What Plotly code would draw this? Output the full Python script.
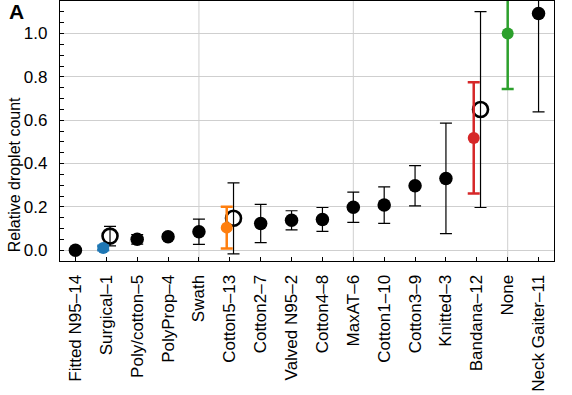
import plotly.graph_objects as go

categories = ["Fitted N95–14", "Surgical–1", "Poly/cotton–5", "PolyProp–4", "Swath",
              "Cotton5–13", "Cotton2–7", "Valved N95–2", "Cotton4–8", "MaxAT–6",
              "Cotton1–10", "Cotton3–9", "Knitted–3", "Bandana–12", "None", "Neck Gaiter–11"]

black_labels = ["Fitted N95–14", "Poly/cotton–5", "PolyProp–4", "Swath", "Cotton2–7",
                "Valved N95–2", "Cotton4–8", "MaxAT–6", "Cotton1–10", "Cotton3–9",
                "Knitted–3", "Neck Gaiter–11"]
black_values = [0.0, 0.05, 0.062, 0.085, 0.123, 0.138, 0.142, 0.198, 0.208, 0.297, 0.331, 1.092]
black_errors = [0.0, 0.022, 0.012, 0.058, 0.088, 0.044, 0.055, 0.07, 0.084, 0.093, 0.255, 0.454]

open_labels = ["Surgical–1", "Cotton5–13", "Bandana–12"]
open_values = [0.065, 0.147, 0.649]
open_errors = [0.045, 0.164, 0.452]

color_labels = ["Surgical–1", "Cotton5–13", "Bandana–12", "None"]
color_values = [0.01, 0.104, 0.518, 1.0]
color_errors = [0.01, 0.096, 0.257, 0.256]
color_colors = ["#1f77b4", "#ff7f0e", "#d62728", "#2ca02c"]
color_offsets = [-0.1, -0.1, -0.1, 0.0]

y_ticks = [0.0, 0.2, 0.4, 0.6, 0.8, 1.0]
grid_x_labels = ["Swath", "MaxAT–6", "None"]

FONT = "Liberation Sans, Arial, sans-serif"

def pos(label, off=0.0):
    return categories.index(label) + off

fig = go.Figure()

# vertical grid lines
for g in grid_x_labels:
    fig.add_shape(type="line", xref="x", yref="paper", x0=pos(g), x1=pos(g), y0=0, y1=1,
                  line=dict(color="#cfcfcf", width=1), layer="below")

fig.add_trace(go.Scatter(
    x=[pos(l) for l in black_labels], y=black_values, mode="markers",
    marker=dict(color="black", size=13.5),
    error_y=dict(type="data", array=black_errors, color="black", thickness=1.2, width=6),
    showlegend=False))

fig.add_trace(go.Scatter(
    x=[pos(l, 0.12) for l in open_labels], y=open_values, mode="markers",
    marker=dict(symbol="circle-open", color="black", size=15, line=dict(width=2.6)),
    error_y=dict(type="data", array=open_errors, color="black", thickness=1.2, width=6),
    showlegend=False))

for l, v, e, c, o in zip(color_labels, color_values, color_errors, color_colors, color_offsets):
    fig.add_trace(go.Scatter(
        x=[pos(l, o)], y=[v], mode="markers",
        marker=dict(color=c, size=12),
        error_y=dict(type="data", array=[e], color=c, thickness=2.5, width=6),
        showlegend=False))

fig.add_annotation(text="<b>A</b>", xref="paper", yref="paper", x=0, y=1,
                   xshift=-44, yshift=-10, xanchor="center", yanchor="middle",
                   showarrow=False, font=dict(size=21, family=FONT, color="black"))

fig.add_annotation(text="Relative droplet count", xref="paper", yref="paper",
                   x=0, y=0.33, xshift=-46, textangle=-90, xanchor="center", yanchor="middle",
                   showarrow=False, font=dict(size=16, family=FONT, color="black"))

fig.update_layout(
    width=572, height=395,
    margin=dict(l=60, r=18, t=1, b=134, autoexpand=False),
    plot_bgcolor="white", paper_bgcolor="white",
    font=dict(family=FONT, size=17, color="black"),
    xaxis=dict(range=[-0.5, 15.5], tickmode="array", tickvals=list(range(len(categories))),
               ticktext=categories, tickangle=-90, ticks="inside", ticklen=4,
               tickcolor="black", showgrid=False, zeroline=False, automargin=False,
               showline=True, linecolor="black", linewidth=1.2, mirror=True,
               tickfont=dict(size=17), ticklabelstandoff=6),
    yaxis=dict(range=[-0.05, 1.15], tickmode="array", tickvals=y_ticks,
               ticktext=[f"{t:.1f}" for t in y_ticks], ticks="inside", ticklen=4,
               tickcolor="black", showgrid=True, gridcolor="#cfcfcf", gridwidth=1,
               zeroline=False, showline=True, linecolor="black", linewidth=1.2, mirror=True,
               tickfont=dict(size=17), ticklabelstandoff=8, automargin=False,
               minor=dict(ticks="inside", dtick=0.05, tick0=0, ticklen=4, tickcolor="black",
                          showgrid=False)),
)

fig.write_html("out.html", config={"displayModeBar": False},
               post_script="document.body.style.margin='0';document.body.style.overflow='hidden';")
